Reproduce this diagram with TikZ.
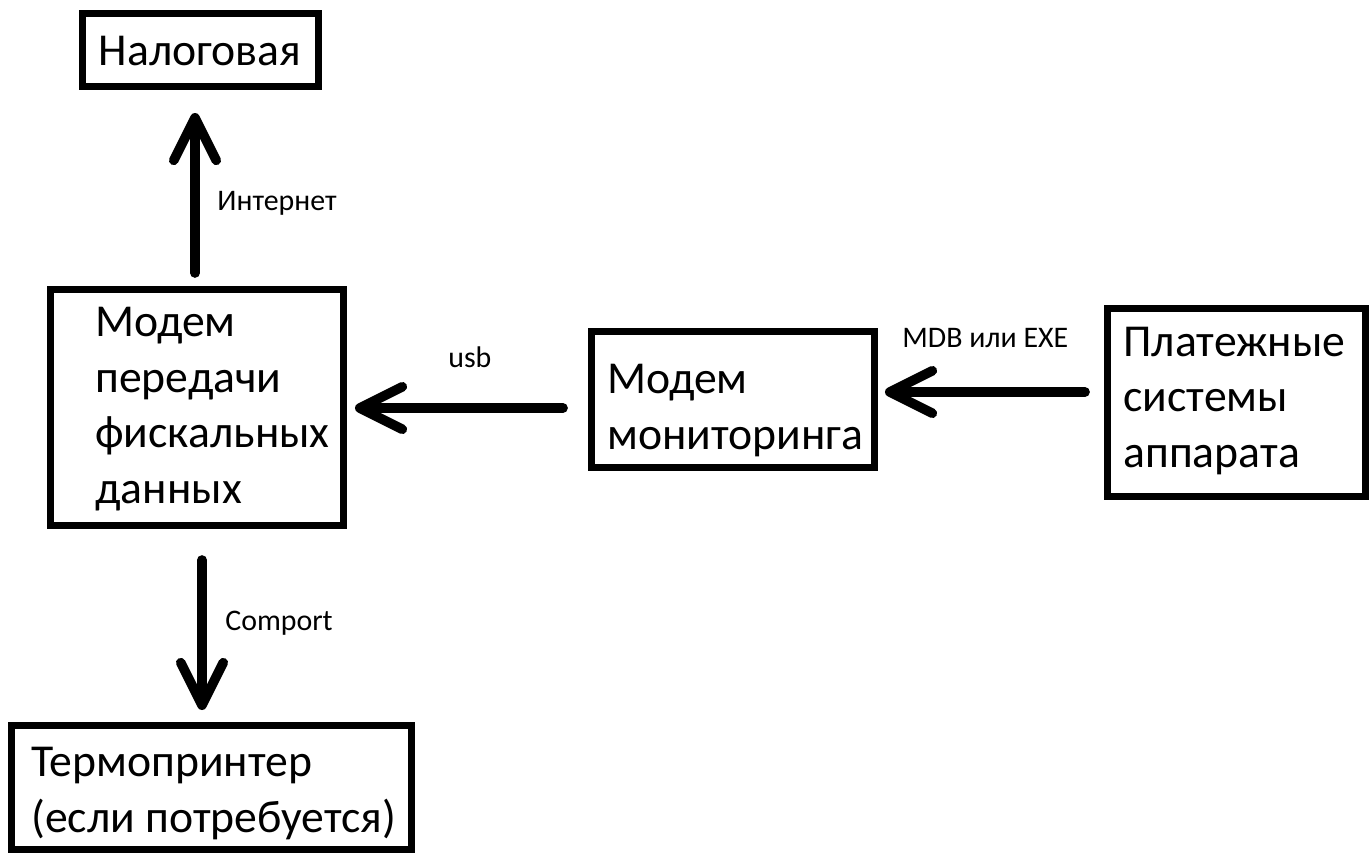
\documentclass[tikz,border=0pt]{standalone}
\usepackage{fontspec}
\setmainfont{Carlito}
\usetikzlibrary{arrows.meta}

\begin{document}
\begin{tikzpicture}[x=0.02cm, y=-0.02cm,
		frame/.style={draw, line width=4pt, inner sep=0pt},
		boxtext/.style={anchor=base west, align=left, inner sep=0pt, font=\fontsize{26}{31.5}\selectfont},
		linklabel/.style={anchor=base west, inner sep=0pt, font=\fontsize{17}{20}\selectfont},
		link/.style={line width=5.5pt, line cap=round, -{Straight Barb[length=0.85cm, width=0.85cm, round]}}]
		\useasboundingbox (0,0) rectangle (1372,856);
		\node[frame, minimum width=4.72cm, minimum height=1.46cm] (nalog) at (200.5,50) {};
		\node[frame, minimum width=5.86cm, minimum height=4.72cm] (fiscal) at (197,407.5) {};
		\node[frame, minimum width=5.66cm, minimum height=2.72cm] (monitor) at (733,399.5) {};
		\node[frame, minimum width=5.16cm, minimum height=3.76cm] (pay) at (1236.5,402.5) {};
		\node[frame, minimum width=8cm, minimum height=2.48cm] (printer) at (211.5,787.5) {};
		\node[boxtext, anchor=base] (nalogtxt) at (200,65) {Налоговая};
		\node[boxtext] (fiscaltxt) at (95,503) {Модем\\передачи\\фискальных\\данных};
		\node[boxtext] (monitortxt) at (607,449) {Модем\\мониторинга};
		\node[boxtext] (paytxt) at (1123,467) {Платежные\\системы\\аппарата};
		\node[boxtext] (printertxt) at (31,832) {Термопринтер\\(если потребуется)};
		\draw[link, shorten <=0.26cm, shorten >=0.46cm] (fiscal.north -| 195,0) -- (nalog.south -| 195,0);
		\draw[link, shorten <=0.5cm, shorten >=0.16cm] (monitor.west |- 0,408) -- (fiscal.east |- 0,408);
		\draw[link, shorten <=0.38cm, shorten >=0.14cm] (pay.west |- 0,392) -- (monitor.east |- 0,392);
		\draw[link, shorten <=0.62cm, shorten >=0.24cm] (fiscal.south -| 202,0) -- (printer.north -| 202,0);
		\node[linklabel] (internet) at (217,210) {Интернет};
		\node[linklabel] (usb) at (448,367) {usb};
		\node[linklabel] (mdb) at (902,347) {MDB или EXE};
		\node[linklabel] (comport) at (225,630) {Comport};
	\end{tikzpicture}
\end{document}
